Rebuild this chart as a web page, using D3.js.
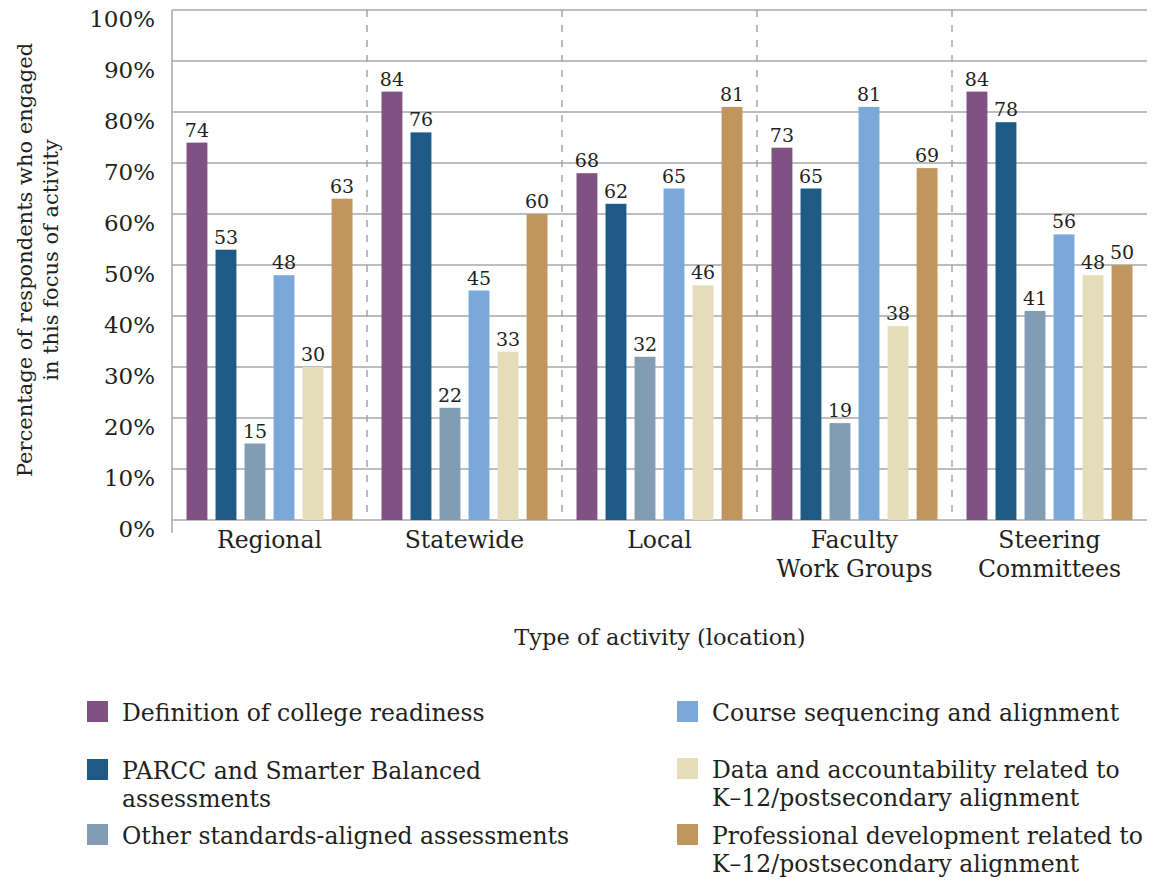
<!DOCTYPE html>
<html>
<head>
<meta charset="utf-8">
<script src="https://cdn.jsdelivr.net/npm/d3@7"></script>
<style>
  body { margin: 0; background: #fff; }
  text { font-family: "DejaVu Serif", serif; fill: #231f20; }
</style>
</head>
<body>
<div id="chart"></div>
<script>
// categories and series
var categories = ["Regional", "Statewide", "Local", "Faculty Work Groups", "Steering Committees"];
var categoryLines = [["Regional"], ["Statewide"], ["Local"], ["Faculty", "Work Groups"], ["Steering", "Committees"]];
var seriesNames = [
  "Definition of college readiness",
  "PARCC and Smarter Balanced assessments",
  "Other standards-aligned assessments",
  "Course sequencing and alignment",
  "Data and accountability related to K–12/postsecondary alignment",
  "Professional development related to K–12/postsecondary alignment"
];
var definition   = [74, 84, 68, 73, 84];
var parcc        = [53, 76, 62, 65, 78];
var otherAssess  = [15, 22, 32, 19, 41];
var courseSeq    = [48, 45, 65, 81, 56];
var dataAccount  = [30, 33, 46, 38, 48];
var profDev      = [63, 60, 81, 69, 50];
var yTicks = [0, 10, 20, 30, 40, 50, 60, 70, 80, 90, 100];

var seriesValues = [definition, parcc, otherAssess, courseSeq, dataAccount, profDev];
var colors = ["#7f5283", "#1d5a85", "#829db3", "#7aa8d8", "#e5dcb9", "#c0955e"];

// dimensions
var margin = { top: 10, right: 9, bottom: 361, left: 172 },
    width = 1156 - margin.left - margin.right,
    height = 881 - margin.top - margin.bottom;

var svg = d3.select("#chart")
  .append("svg")
  .attr("width", 1156)
  .attr("height", 881);

var g = svg.append("g")
  .attr("transform", "translate(" + margin.left + "," + margin.top + ")");

var x0 = d3.scaleBand().domain(categories).range([0, width]).padding(0);
var x1 = d3.scaleBand().domain(d3.range(6)).range([0, x0.bandwidth()])
  .paddingInner(0.28).paddingOuter(0.5);
var y = d3.scaleLinear().domain([0, 100]).range([height, 0]);

// gridlines
g.selectAll(".grid")
  .data(yTicks)
  .enter()
  .append("line")
  .attr("x1", 0)
  .attr("x2", width)
  .attr("y1", function (d) { return y(d); })
  .attr("y2", function (d) { return y(d); })
  .attr("stroke", "#a7a7a7")
  .attr("stroke-width", 1.5);

// dashed separators
g.selectAll(".sep")
  .data(categories.slice(1))
  .enter()
  .append("line")
  .attr("x1", function (d) { return x0(d); })
  .attr("x2", function (d) { return x0(d); })
  .attr("y1", y(100))
  .attr("y2", y(0))
  .attr("stroke", "#a7a7a7")
  .attr("stroke-width", 1.5)
  .attr("stroke-dasharray", "7,8");

// left axis line
g.append("line")
  .attr("x1", 0).attr("x2", 0)
  .attr("y1", y(100)).attr("y2", height + 13)
  .attr("stroke", "#a7a7a7")
  .attr("stroke-width", 1.5);

// y tick labels
g.selectAll(".ytick")
  .data(yTicks)
  .enter()
  .append("text")
  .attr("x", -17)
  .attr("y", function (d) { return y(d) + 17; })
  .attr("text-anchor", "end")
  .style("font-size", "23px")
  .text(function (d) { return d + "%"; });

// bars
var groups = g.selectAll(".group")
  .data(categories)
  .enter()
  .append("g")
  .attr("transform", function (d) { return "translate(" + x0(d) + ",0)"; });

groups.each(function (cat, ci) {
  var grp = d3.select(this);
  var vals = seriesValues.map(function (s, si) { return { si: si, v: s[ci] }; });
  grp.selectAll("rect")
    .data(vals)
    .enter()
    .append("rect")
    .attr("x", function (d) { return x1(d.si); })
    .attr("width", x1.bandwidth())
    .attr("y", function (d) { return y(d.v); })
    .attr("height", function (d) { return height - y(d.v); })
    .attr("fill", function (d) { return colors[d.si]; });
  grp.selectAll(".val")
    .data(vals)
    .enter()
    .append("text")
    .attr("x", function (d) { return x1(d.si) + x1.bandwidth() / 2; })
    .attr("y", function (d) { return y(d.v) - 6; })
    .attr("text-anchor", "middle")
    .style("font-size", "19px")
    .text(function (d) { return d.v; });
});

// category labels
categories.forEach(function (cat, ci) {
  var t = g.append("text")
    .attr("x", x0(cat) + x0.bandwidth() / 2)
    .attr("y", height + 28)
    .attr("text-anchor", "middle")
    .style("font-size", "23.5px");
  categoryLines[ci].forEach(function (line, li) {
    t.append("tspan")
      .attr("x", x0(cat) + x0.bandwidth() / 2)
      .attr("dy", li === 0 ? 0 : 29)
      .text(line);
  });
});

// x axis title
svg.append("text")
  .attr("x", 660)
  .attr("y", 645)
  .attr("text-anchor", "middle")
  .style("font-size", "22.5px")
  .text("Type of activity (location)");

// y axis title
var yt = svg.append("text")
  .attr("transform", "translate(32,260) rotate(-90)")
  .attr("text-anchor", "middle")
  .style("font-size", "21px");
yt.append("tspan").attr("x", 0).attr("dy", 0).text("Percentage of respondents who engaged");
yt.append("tspan").attr("x", 0).attr("dy", 26).text("in this focus of activity");

// legend
var legendItems = [
  { si: 0, x: 87, y: 701, lines: ["Definition of college readiness"] },
  { si: 1, x: 87, y: 759, lines: ["PARCC and Smarter Balanced", "assessments"] },
  { si: 2, x: 87, y: 824, lines: ["Other standards-aligned assessments"] },
  { si: 3, x: 677, y: 701, lines: ["Course sequencing and alignment"] },
  { si: 4, x: 677, y: 758, lines: ["Data and accountability related to", "K–12/postsecondary alignment"] },
  { si: 5, x: 677, y: 824, lines: ["Professional development related to", "K–12/postsecondary alignment"] }
];

var legend = svg.selectAll(".legend")
  .data(legendItems)
  .enter()
  .append("g")
  .attr("transform", function (d) { return "translate(" + d.x + "," + d.y + ")"; });

legend.append("rect")
  .attr("width", 21)
  .attr("height", 21)
  .attr("fill", function (d) { return colors[d.si]; });

legend.each(function (d) {
  var t = d3.select(this).append("text")
    .attr("x", 35)
    .attr("y", 20)
    .style("font-size", "23.5px");
  d.lines.forEach(function (line, li) {
    t.append("tspan").attr("x", 35).attr("dy", li === 0 ? 0 : 28).text(line);
  });
});
</script>
</body>
</html>
